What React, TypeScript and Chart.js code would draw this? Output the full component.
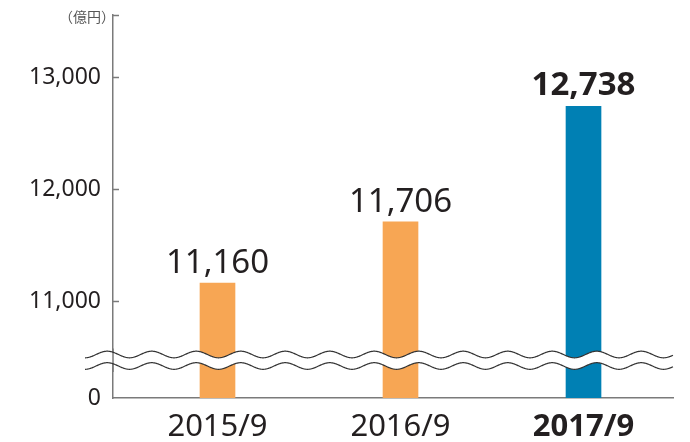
import React, { useEffect, useRef } from "react";
import { Chart, registerables } from "chart.js";

Chart.register(...registerables);

const categories = ["2015/9", "2016/9", "2017/9"];
const values = [11160, 11706, 12738];
const barColors = ["#F7A654", "#F7A654", "#0080B4"];
const highlightIndex = 2;
const yTicks = [11000, 12000, 13000];
const yMin = 10134;
const yMax = 13554;
const zeroLabel = "0";
const unitLabel = "（億円）";

const FONT = "'Noto Sans', 'Open Sans', sans-serif";
const TEXT = "#231f20";
const AXIS = "#7a7a7a";

const decorPlugin = {
  id: "decor",
  afterDatasetsDraw(chart: any) {
    const { ctx, chartArea } = chart;
    const yScale = chart.scales.y;
    const meta = chart.getDatasetMeta(0);
    ctx.save();

    // value labels
    meta.data.forEach((el: any, i: number) => {
      const bold = i === highlightIndex;
      ctx.font = `${bold ? "bold " : ""}33px ${FONT}`;
      ctx.fillStyle = TEXT;
      ctx.textAlign = "center";
      ctx.textBaseline = "alphabetic";
      ctx.fillText(values[i].toLocaleString("en-US"), el.x, el.y - (bold ? 11 : 10));
    });

    // break waves
    const x0 = chartArea.left - 28;
    const x1 = chartArea.right;
    const yU = chartArea.bottom - 43.5;
    const yL = chartArea.bottom - 32;
    const P = 44.5;
    const A = 3.3;
    const wave = (x: number, c: number) => c + A * Math.cos((2 * Math.PI * (x - x0)) / P);
    ctx.beginPath();
    for (let x = x0; x <= x1; x += 0.5) {
      const y = wave(x, yU);
      if (x === x0) ctx.moveTo(x, y);
      else ctx.lineTo(x, y);
    }
    for (let x = x1; x >= x0; x -= 0.5) ctx.lineTo(x, wave(x, yL));
    ctx.closePath();
    ctx.fillStyle = "#ffffff";
    ctx.fill();

    // redraw y axis line through the break
    ctx.strokeStyle = AXIS;
    ctx.lineWidth = 1.5;
    ctx.beginPath();
    ctx.moveTo(chartArea.left, yU - 6);
    ctx.lineTo(chartArea.left, yL + 6);
    ctx.stroke();

    ctx.strokeStyle = "#333333";
    ctx.lineWidth = 1.2;
    [yU, yL].forEach((c) => {
      ctx.beginPath();
      for (let x = x0; x <= x1; x += 0.5) {
        const y = wave(x, c);
        if (x === x0) ctx.moveTo(x, y);
        else ctx.lineTo(x, y);
      }
      ctx.stroke();
    });

    // inward tick marks
    ctx.strokeStyle = AXIS;
    ctx.lineWidth = 1.5;
    [...yTicks, yMax].forEach((v) => {
      const y = Math.round(yScale.getPixelForValue(v)) + 0.5;
      ctx.beginPath();
      ctx.moveTo(chartArea.left, y);
      ctx.lineTo(chartArea.left + 6, y);
      ctx.stroke();
    });

    // unit label
    ctx.font = `14px 'Noto Sans CJK JP', sans-serif`;
    ctx.fillStyle = "#555555";
    ctx.textAlign = "right";
    ctx.textBaseline = "middle";
    ctx.fillText(unitLabel, chartArea.left + 2, chartArea.top + 2);

    ctx.restore();
  },
};

export default function App() {
  const ref = useRef<HTMLCanvasElement | null>(null);

  useEffect(() => {
    if (!ref.current) return;
    const chart = new Chart(ref.current, {
      type: "bar",
      data: {
        datasets: [
          {
            data: values.map((v, i) => ({ x: i, y: v })),
            backgroundColor: barColors,
            barThickness: 35,
            borderWidth: 0,
          },
        ],
      },
      options: {
        responsive: false,
        animation: false,
        layout: { padding: { top: 15, right: 17, left: 0, bottom: 0 } },
        plugins: { legend: { display: false }, tooltip: { enabled: false } },
        scales: {
          x: {
            type: "linear",
            offset: false,
            min: -0.571,
            max: 2.489,
            afterBuildTicks: (scale: any) => {
              scale.ticks = categories.map((_, i) => ({ value: i }));
            },
            afterFit: (scale: any) => {
              scale.height = 44;
              scale.paddingLeft = 0;
              scale.paddingRight = 0;
            },
            grid: { display: false, drawTicks: false, offset: false },
            border: { display: true, color: AXIS, width: 1.5 },
            ticks: {
              padding: 11,
              color: TEXT,
              autoSkip: false,
              maxRotation: 0,
              callback: (v: any) => categories[Math.round(Number(v))] ?? "",
              font: (c: any) => ({
                family: FONT,
                size: 31,
                weight: c.index === highlightIndex ? "bold" : "normal",
              }),
            },
          },
          y: {
            min: yMin,
            max: yMax,
            afterBuildTicks: (scale: any) => {
              scale.ticks = [yMin, ...yTicks].map((v) => ({ value: v }));
            },
            afterFit: (scale: any) => {
              scale.width = 113;
              scale.paddingTop = 0;
              scale.paddingBottom = 0;
            },
            grid: { display: false, drawTicks: false },
            border: { display: true, color: AXIS, width: 1.5 },
            ticks: {
              padding: 12,
              color: TEXT,
              font: { family: FONT, size: 23 },
              callback: (v: any) =>
                Number(v) === yMin ? zeroLabel : Number(v).toLocaleString("en-US"),
            },
          },
        },
      },
      plugins: [decorPlugin],
    });
    return () => chart.destroy();
  }, []);

  return (
    <div style={{ position: "absolute", left: 0, top: 0, width: 690, height: 442 }}>
      <canvas ref={ref} width={690} height={442} style={{ width: 690, height: 442 }} />
    </div>
  );
}
